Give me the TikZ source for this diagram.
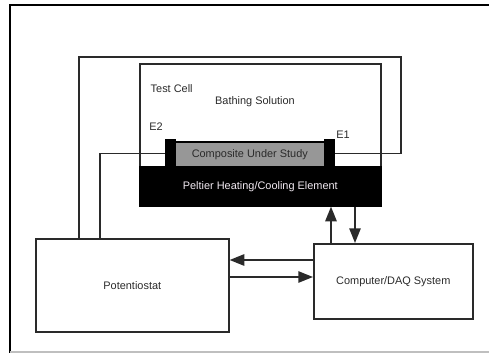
\documentclass[tikz,border=0pt]{standalone}
\usepackage{fontspec}
\setmainfont{Liberation Sans}
\usetikzlibrary{arrows.meta}
\definecolor{ink}{HTML}{2A2A2A}
\definecolor{compgray}{HTML}{979797}
\definecolor{pelttext}{HTML}{F2EAF2}
\begin{document}
\begin{tikzpicture}[x=0.75pt,y=-0.75pt,
  every node/.style={font=\fontsize{8.2}{10}\selectfont, text=ink},
  wire/.style={draw=ink, line width=1.2pt},
  boxn/.style={draw=ink, line width=1.2pt, anchor=north west, inner sep=0pt},
  arr/.style={wire, -{Triangle[length=11pt,width=8.5pt]}}]
\useasboundingbox (0,0) rectangle (489,353);
% frame
\draw[line width=1.3pt, black] (10,353) -- (10,5) -- (489,5);
\draw[line width=1pt, black!25] (10,352) -- (489,352);
% test cell
\node[boxn, minimum width=180.75pt, minimum height=77.25pt] (cell) at (139,63) {};
\node[anchor=west] (tc) at (146,89) {Test Cell};
\node (bath) at (255,102) {Bathing Solution};
% peltier
\node[boxn, fill=black, draw=black, minimum width=180.75pt, minimum height=29.25pt, text=pelttext] (pelt) at (139,166) {Peltier Heating/Cooling Element};
% electrodes and composite
\node[boxn, fill=black, draw=black, minimum width=6.75pt, minimum height=20.25pt] (e2) at (165,139) {};
\node[boxn, fill=black, draw=black, minimum width=6.75pt, minimum height=20.25pt] (e1) at (324,139) {};
\node[boxn, fill=compgray, draw=black, minimum width=112.5pt, minimum height=18.75pt] (comp) at (174,141) {Composite Under Study};
\node (e2l) at (156,127) {E2};
\node (e1l) at (343,135) {E1};
% boxes
\node[boxn, minimum width=144.75pt, minimum height=69.75pt] (pot) at (35,238) {Potentiostat};
\node[boxn, minimum width=119.25pt, minimum height=56.25pt] (daq) at (313,243) {Computer/DAQ System};
% wires
\coordinate (c1) at (79,57);
\coordinate (c2) at (401,57);
\coordinate (c4) at (100,153);
\draw[wire] (pot.north -| c1) |- (c2) |- (e1.east);
\draw[wire] (pot.north -| c4) |- (e2.west);
% arrows
\coordinate (u1) at (331,0);
\coordinate (d1) at (355,0);
\coordinate (h1) at (0,260);
\coordinate (h2) at (0,277);
\draw[arr] (u1 |- daq.north) -- (u1 |- pelt.south);
\draw[arr] (d1 |- pelt.south) -- (d1 |- daq.north);
\draw[arr] (daq.west |- h1) -- (pot.east |- h1);
\draw[arr] (pot.east |- h2) -- (daq.west |- h2);
\end{tikzpicture}
\end{document}
